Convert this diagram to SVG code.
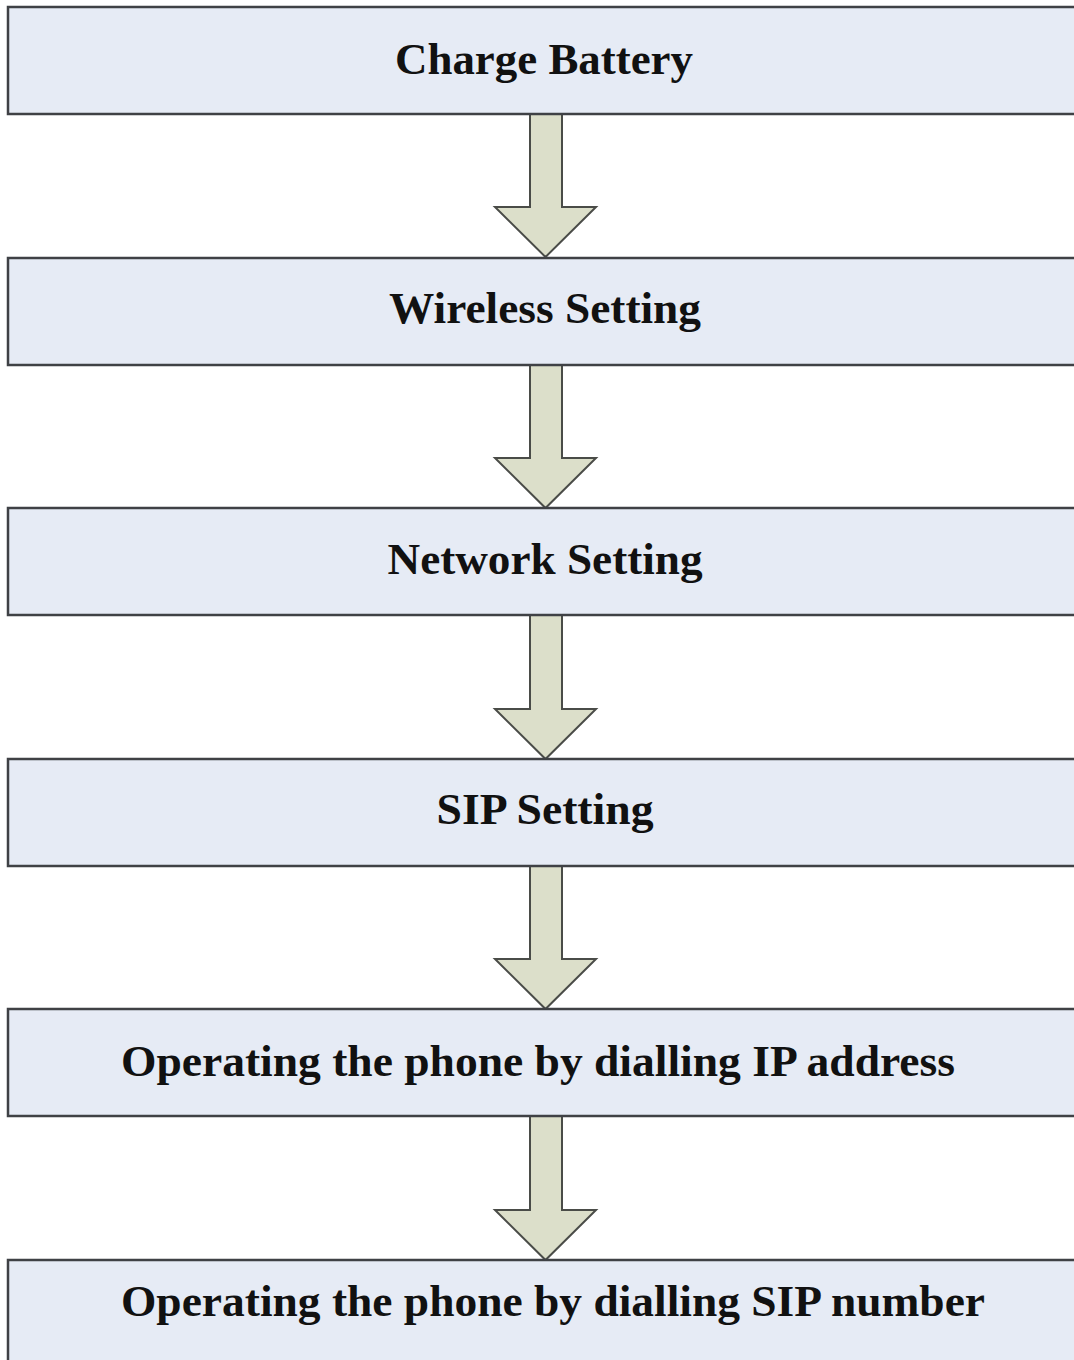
<svg xmlns="http://www.w3.org/2000/svg" width="1074" height="1360" viewBox="0 0 1074 1360">
<style>
.box{fill:#e6ebf5;stroke:#3f4145;stroke-width:2.5}
.lbl{font-family:"Liberation Serif","Times New Roman",serif;font-weight:bold;font-size:44px;fill:#111;text-anchor:middle}
.arr{fill:#dcdfca;stroke:#4a4c48;stroke-width:2;stroke-linejoin:miter}
</style>
<rect width="1074" height="1360" fill="#ffffff"/>
<g id="connectors">
<path class="arr" d="M530,114 V207 H495 L545.5,257 L596,207 H562 V114 Z"/>
<path class="arr" d="M530,365 V458 H495 L545.5,508 L596,458 H562 V365 Z"/>
<path class="arr" d="M530,615 V709 H495 L545.5,759 L596,709 H562 V615 Z"/>
<path class="arr" d="M530,866 V959 H495 L545.5,1009 L596,959 H562 V866 Z"/>
<path class="arr" d="M530,1116 V1210 H495 L545.5,1260 L596,1210 H562 V1116 Z"/>
</g>
<g id="n1"><rect class="box" x="8" y="7" width="1080" height="107"/><text class="lbl" x="544" y="74" textLength="298" lengthAdjust="spacingAndGlyphs">Charge Battery</text></g>
<g id="n2"><rect class="box" x="8" y="258" width="1080" height="107"/><text class="lbl" x="545" y="323" textLength="312" lengthAdjust="spacingAndGlyphs">Wireless Setting</text></g>
<g id="n3"><rect class="box" x="8" y="508" width="1080" height="107"/><text class="lbl" x="545" y="574" textLength="315" lengthAdjust="spacingAndGlyphs">Network Setting</text></g>
<g id="n4"><rect class="box" x="8" y="759" width="1080" height="107"/><text class="lbl" x="545" y="824" textLength="217" lengthAdjust="spacingAndGlyphs">SIP Setting</text></g>
<g id="n5"><rect class="box" x="8" y="1009" width="1080" height="107"/><text class="lbl" x="538" y="1076" textLength="834" lengthAdjust="spacingAndGlyphs">Operating the phone by dialling IP address</text></g>
<g id="n6"><rect class="box" x="8" y="1260" width="1080" height="120"/><text class="lbl" x="553" y="1316" textLength="864" lengthAdjust="spacingAndGlyphs">Operating the phone by dialling SIP number</text></g>
</svg>
